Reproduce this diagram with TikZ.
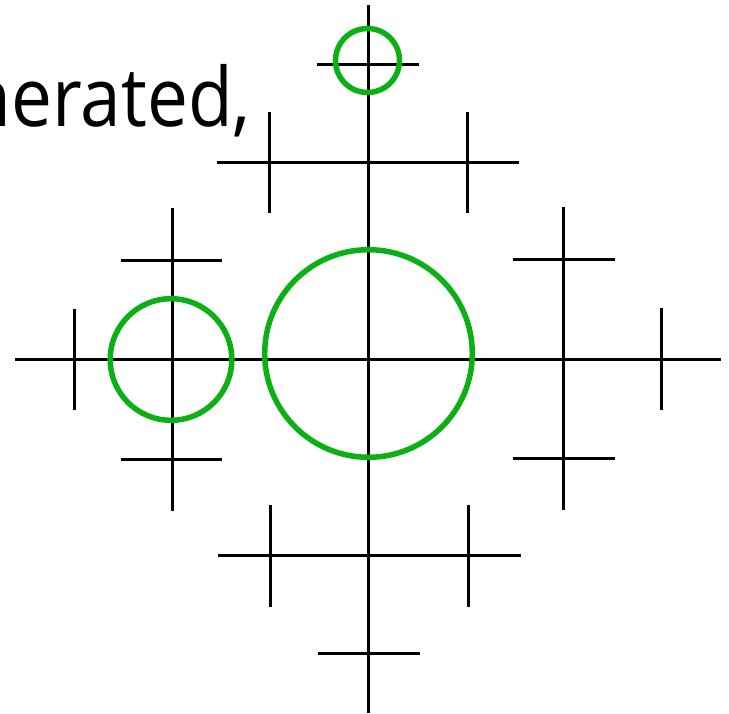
\documentclass[tikz,border=0pt]{standalone}
\usepackage{fontspec}
\setmainfont{Open Sans}
\definecolor{ringgreen}{RGB}{10,176,20}
\tikzset{
  bar/.style={line width=3pt, black, line cap=butt},
  ring/.style={line width=5.5pt, draw=ringgreen}
}
\begin{document}
\begin{tikzpicture}[x=1pt,y=-1pt]
\useasboundingbox (0,0) rectangle (729,714);
% text (cropped at the left edge)
\node[anchor=base east, inner sep=0pt, font=\fontsize{73}{73}\selectfont, yscale=1.12] (txt) at (251,127) {nerated,};
% main cross
\draw[bar] (368.5,5) -- (368.5,713);
\draw[bar] (15,359.5) -- (721,359.5);
% level-1 bars
\draw[bar] (217,163) -- (519,163);
\draw[bar] (218,555) -- (521,555);
\draw[bar] (172,208) -- (172,511);
\draw[bar] (563,207) -- (563,510);
% level-2 bars: top
\draw[bar] (269,112) -- (269,213);
\draw[bar] (467,112) -- (467,213);
\draw[bar] (317,65) -- (419,65);
% bottom
\draw[bar] (270,505) -- (270,607);
\draw[bar] (468,505) -- (468,607);
\draw[bar] (318,653) -- (420,653);
% left
\draw[bar] (121,261) -- (222,261);
\draw[bar] (121,459) -- (222,459);
\draw[bar] (74,309) -- (74,410);
% right
\draw[bar] (513,260) -- (615,260);
\draw[bar] (513,458) -- (615,458);
\draw[bar] (661,308) -- (661,410);
% green circles
\draw[ring] (367.5,60.5) circle[radius=32];
\draw[ring] (171,359.5) circle[radius=60.8];
\draw[ring] (368.5,353.5) circle[radius=103.8];
\end{tikzpicture}
\end{document}
